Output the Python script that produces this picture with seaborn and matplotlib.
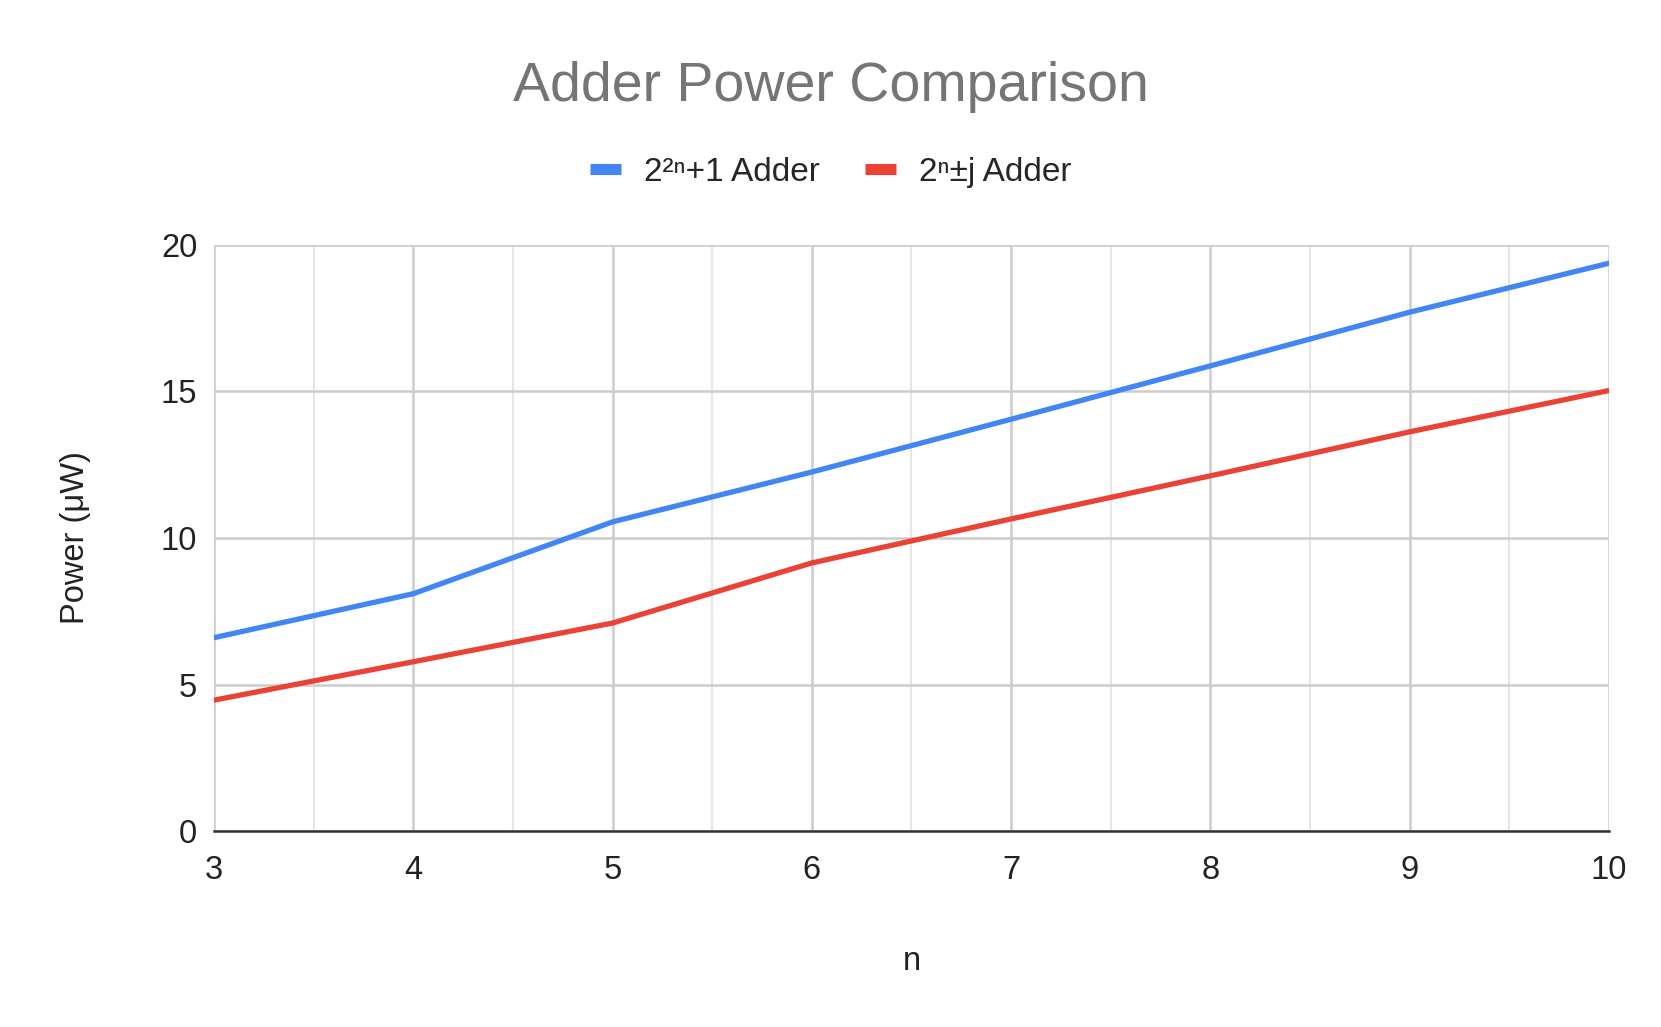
import matplotlib
matplotlib.use('Agg')
import matplotlib.pyplot as plt
import numpy as np
import pandas as pd
import seaborn as sns
from matplotlib.lines import Line2D

sns.set_style('white')
plt.rcParams['font.family'] = ['Liberation Sans', 'DejaVu Sans']

# data
n_values = [3, 4, 5, 6, 7, 8, 9, 10]
power_2n1 = [6.6, 8.1, 10.55, 12.25, 14.05, 15.87, 17.7, 19.37]
power_2nj = [4.47, 5.78, 7.1, 9.15, 10.65, 12.12, 13.62, 15.03]
series_names = ['2²ⁿ+1 Adder', '2ⁿ±j Adder']
series_colors = ['#4285F4', '#EA4335']
y_ticks = [0, 5, 10, 15, 20]

df = pd.DataFrame({
    'n': n_values * 2,
    'power': power_2n1 + power_2nj,
    'series': [series_names[0]] * len(n_values) + [series_names[1]] * len(n_values),
})

fig = plt.figure(figsize=(16.61, 10.27), dpi=100)
ax = fig.add_axes([0.1288, 0.1906, 0.8399, 0.5711])

sns.lineplot(data=df, x='n', y='power', hue='series', palette=series_colors,
             linewidth=3.8, ax=ax, legend=False)

ax.set_xlim(3, 10)
ax.set_ylim(0, 20)
ax.set_xticks(n_values)
ax.set_xticks(np.arange(3.5, 10, 1), minor=True)
ax.set_yticks(y_ticks)

# grid lines like the sheets chart
ax.grid(which='major', color='#cccccc', linewidth=1.8)
ax.grid(which='minor', axis='x', color='#e6e6e6', linewidth=1.5)
ax.set_axisbelow(True)
for side in ['top', 'right', 'left']:
    ax.spines[side].set_visible(False)
ax.spines['bottom'].set_color('#333333')
ax.spines['bottom'].set_linewidth(1.8)
ax.tick_params(which='both', length=0, labelsize=23.5, colors='#222222')
ax.tick_params(axis='x', pad=17)
ax.tick_params(axis='y', pad=12)

ax.set_xlabel('n', fontsize=23.5, color='#222222', labelpad=43)
ax.set_ylabel('Power (μW)', fontsize=23.5, color='#222222', labelpad=50)

fig.suptitle('Adder Power Comparison', fontsize=40, color='#757575', x=0.5, y=0.941)

handles = [Line2D([0], [0], color=c, linewidth=8, solid_capstyle='butt') for c in series_colors]
fig.legend(handles, series_names, loc='center', bbox_to_anchor=(0.5, 0.832), ncol=2,
           frameon=False, fontsize=24, handlelength=0.95, columnspacing=1.35,
           handletextpad=0.67)

plt.savefig('out.png', dpi=100, facecolor='white')
plt.close()
